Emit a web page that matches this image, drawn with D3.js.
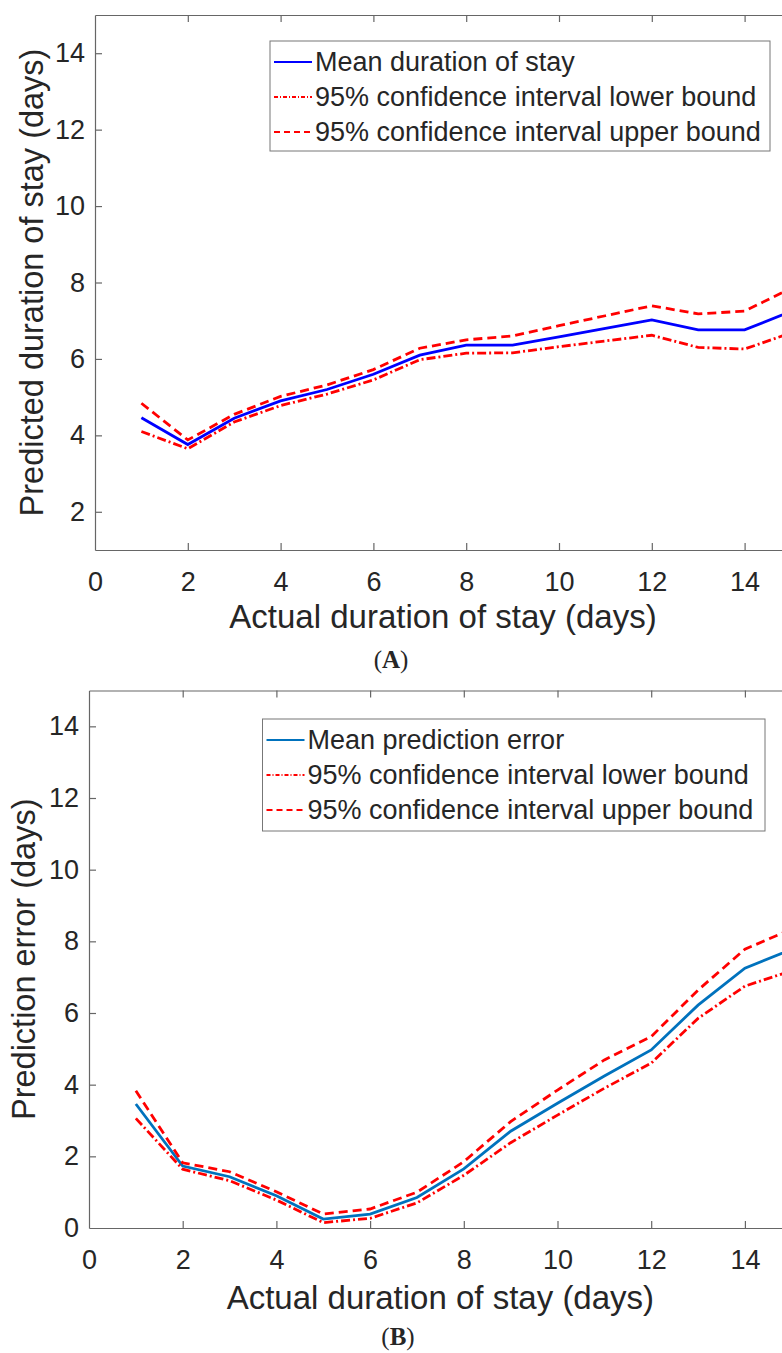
<!DOCTYPE html>
<html>
<head>
<meta charset="utf-8">
<script src="https://cdn.jsdelivr.net/npm/d3@7"></script>
<style>
  body { margin: 0; background: #fff; }
  svg { display: block; }
  text { font-family: "Liberation Sans", Arial, sans-serif; fill: #262626; }
</style>
</head>
<body>
<div id="chart"></div>
<script>
// x values (actual duration of stay, days)
const days = [1, 2, 3, 4, 5, 6, 7, 8, 9, 10, 11, 12, 13, 14, 15];

// panel A: predicted duration of stay
const meanStay  = [4.46, 3.76, 4.45, 4.90, 5.20, 5.60, 6.10, 6.36, 6.36, 6.58, 6.80, 7.02, 6.76, 6.76, 7.24];
const lowerStay = [4.10, 3.65, 4.35, 4.78, 5.08, 5.45, 5.98, 6.15, 6.16, 6.32, 6.47, 6.62, 6.30, 6.26, 6.68];
const upperStay = [4.84, 3.88, 4.55, 5.02, 5.32, 5.72, 6.28, 6.50, 6.60, 6.87, 7.13, 7.39, 7.18, 7.25, 7.85];

// panel B: prediction error
const meanErr  = [3.46, 1.73, 1.43, 0.90, 0.25, 0.39, 0.85, 1.65, 2.70, 3.48, 4.24, 4.97, 6.22, 7.25, 7.78];
const lowerErr = [3.06, 1.64, 1.32, 0.78, 0.15, 0.27, 0.70, 1.47, 2.38, 3.15, 3.90, 4.60, 5.85, 6.75, 7.18];
const upperErr = [3.83, 1.82, 1.57, 1.01, 0.39, 0.53, 1.00, 1.85, 2.97, 3.85, 4.69, 5.34, 6.64, 7.78, 8.34];

// ticks
const xTicks  = [0, 2, 4, 6, 8, 10, 12, 14];
const yTicksA = [2, 4, 6, 8, 10, 12, 14];
const yTicksB = [0, 2, 4, 6, 8, 10, 12, 14];

const legendA = ["Mean duration of stay", "95% confidence interval lower bound", "95% confidence interval upper bound"];
const legendB = ["Mean prediction error", "95% confidence interval lower bound", "95% confidence interval upper bound"];

const W = 782, H = 1353;
const svg = d3.select("#chart").append("svg")
    .attr("width", W)
    .attr("height", H);

const styles = [
    { dash: null },            // mean
    { dash: "9,3,2,3" },       // lower: dash-dot
    { dash: "9,5" }            // upper: dashed
];

function drawPanel(p) {
    const x = d3.scaleLinear().domain([0, 15]).range([p.left, p.right]);
    const y = d3.scaleLinear().domain(p.yDomain).range([p.bottom, p.top]);
    const g = svg.append("g");

    // axes (ticks pointing inward, like matlab)
    const xAxis = g.append("g")
        .attr("transform", `translate(0,${p.bottom})`)
        .call(d3.axisBottom(x).tickValues(xTicks).tickSizeInner(-7).tickSizeOuter(0).tickPadding(22));
    const topAxis = g.append("g")
        .attr("transform", `translate(0,${p.top})`)
        .call(d3.axisTop(x).tickValues(xTicks).tickSizeInner(-7).tickSizeOuter(0).tickFormat(""));
    const yAxis = g.append("g")
        .attr("transform", `translate(${p.left},0)`)
        .call(d3.axisLeft(y).tickValues(p.yTicks).tickSizeInner(-7).tickSizeOuter(0).tickPadding(10));

    [xAxis, topAxis, yAxis].forEach(a => {
        a.selectAll(".domain").attr("stroke", "#666").attr("stroke-width", 1.2);
        a.selectAll(".tick line").attr("stroke", "#666").attr("stroke-width", 1.2);
        a.selectAll(".tick line").filter(d => d === 0).remove();
        a.selectAll("text").attr("font-size", 27).attr("fill", "#262626")
            .attr("font-family", "Liberation Sans, Arial, sans-serif");
    });
    xAxis.selectAll("text").attr("dy", "0.71em");

    // axis titles
    g.append("text")
        .attr("x", (p.left + p.right) / 2)
        .attr("y", p.xTitleY)
        .attr("text-anchor", "middle")
        .attr("font-size", 33)
        .text("Actual duration of stay (days)");
    g.append("text")
        .attr("transform", `translate(${p.yTitleX},${(p.top + p.bottom) / 2}) rotate(-90)`)
        .attr("text-anchor", "middle")
        .attr("font-size", 32.5)
        .text(p.yTitle);

    // series
    const line = d3.line().x((d, i) => x(days[i])).y(d => y(d));
    const series = [p.mean, p.lower, p.upper];
    const colors = [p.meanColor, "#ff0000", "#ff0000"];
    series.forEach((s, k) => {
        g.append("path")
            .datum(s)
            .attr("fill", "none")
            .attr("stroke", colors[k])
            .attr("stroke-width", 2.8)
            .attr("stroke-dasharray", styles[k].dash)
            .attr("d", line);
    });

    // legend
    const lg = p.legend;
    g.append("rect")
        .attr("x", lg.x).attr("y", lg.y)
        .attr("width", lg.w).attr("height", lg.h)
        .attr("fill", "#fff")
        .attr("stroke", "#777")
        .attr("stroke-width", 1);
    p.labels.forEach((t, k) => {
        const cy = lg.y + 21 + k * 35;
        g.append("line")
            .attr("x1", lg.x + 4).attr("x2", lg.x + 42)
            .attr("y1", cy).attr("y2", cy)
            .attr("stroke", colors[k])
            .attr("stroke-width", 2)
            .attr("stroke-dasharray", k === 1 ? "4,2,1,2" : k === 2 ? "6,4" : null);
        g.append("text")
            .attr("x", lg.x + 45)
            .attr("y", cy + 9)
            .attr("font-size", 27)
            .attr("fill", "#000")
            .text(t);
    });

    // panel letter
    const lab = g.append("text")
        .attr("x", p.tagX)
        .attr("y", p.tagY)
        .attr("text-anchor", "middle")
        .attr("font-size", 25)
        .style("font-family", "Liberation Serif, Times New Roman, serif")
        .attr("fill", "#000");
    lab.append("tspan").text("(");
    lab.append("tspan").attr("font-weight", "bold").text(p.tag);
    lab.append("tspan").text(")");
}

drawPanel({
    left: 95, right: 791, top: 15, bottom: 550,
    yDomain: [1, 15], yTicks: yTicksA,
    mean: meanStay, lower: lowerStay, upper: upperStay,
    meanColor: "#0000ff",
    yTitle: "Predicted duration of stay (days)", yTitleX: 43,
    xTitleY: 628,
    legend: { x: 270, y: 41, w: 500, h: 110 },
    labels: legendA,
    tag: "A", tagX: 391, tagY: 668
});

drawPanel({
    left: 89, right: 791.75, top: 690.5, bottom: 1228,
    yDomain: [0, 15], yTicks: yTicksB,
    mean: meanErr, lower: lowerErr, upper: upperErr,
    meanColor: "#0072bd",
    yTitle: "Prediction error (days)", yTitleX: 35,
    xTitleY: 1309,
    legend: { x: 262.5, y: 719, w: 502.5, h: 112 },
    labels: legendB,
    tag: "B", tagX: 398, tagY: 1345
});
</script>
</body>
</html>
